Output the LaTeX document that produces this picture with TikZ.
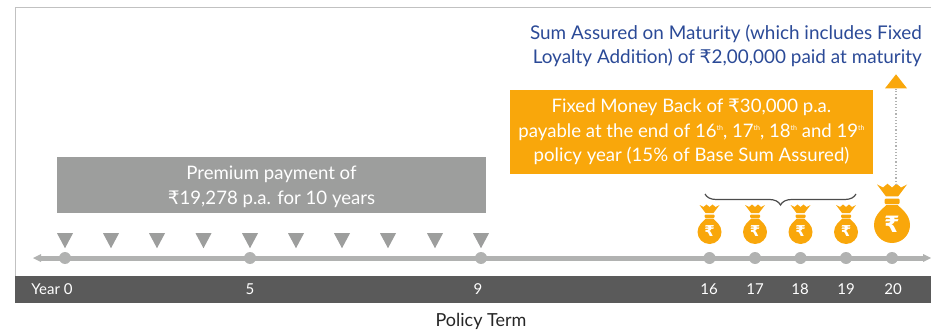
\documentclass[tikz,border=0pt]{standalone}
\usepackage{fontspec}
\setmainfont{Lato}
\newfontfamily\rupeefont{DejaVu Sans}
\usetikzlibrary{arrows,shapes.geometric,decorations.pathreplacing}
\definecolor{bagorange}{HTML}{F9A70B}
\definecolor{axisgray}{HTML}{B1B2B1}
\definecolor{boxgray}{HTML}{9D9E9D}
\definecolor{banddark}{HTML}{5A5A5A}
\definecolor{titleblue}{HTML}{2B4A97}
\newcommand{\rs}{{\rupeefont\char"20B9}}
\newcommand{\thmark}{\raisebox{6.5pt}{\fontsize{7}{7}\selectfont th}}
\tikzset{
  tick node/.style={circle,fill=axisgray,minimum size=12pt,inner sep=0pt},
  due node/.style={isosceles triangle,isosceles triangle apex angle=56,shape border rotate=-90,
    fill=boxgray,minimum width=16pt,minimum height=15pt,inner sep=0pt},
  year node/.style={text=white,font=\fontsize{15}{17}\selectfont},
  note node/.style={align=center,text=white,inner sep=0pt,font=\fontsize{18.6}{24.5}\selectfont},
  bag/.pic={
    \fill[bagorange] (-10,-27) -- (-6,-25) -- (-3,-27.5) -- (0,-25) -- (3,-27.5) -- (6,-25) -- (10,-27)
      -- (4,-19) -- (-4,-19) -- cycle;
    \fill[bagorange,rounded corners=1pt] (-5,-17.5) rectangle (5,-14);
    \fill[bagorange] (-3.5,-13.5) .. controls (-6,-11) and (-12,-7) .. (-12,0)
      arc[start angle=180,end angle=0,radius=12]
      .. controls (12,-7) and (6,-11) .. (3.5,-13.5) -- cycle;
    \node[text=white,transform shape,inner sep=0pt,font=\rupeefont\bfseries\fontsize{15}{15}\selectfont] at (0,-0.5) {\char"20B9};
  }
}
\begin{document}
\begin{tikzpicture}[x=1pt,y=-1pt]
  \useasboundingbox (0,0) rectangle (931,331);

  \draw[axisgray!80,line width=1.2pt] (15.5,303) -- (15.5,7.5) -- (931,7.5);
  \fill[banddark] (15,276) rectangle (931,303);

  % axis
  \coordinate (start) at (33,258);
  \coordinate (end) at (931,258);
  \draw[axisgray,line width=5pt] (41,258) -- (924,258);
  \fill[axisgray] (start) -- (41,254) -- (41,262) -- cycle;
  \fill[axisgray] (end) -- (923,254) -- (923,262) -- cycle;

  \foreach \name/\px in {0/65,5/250,9/481,16/709.5,17/755,18/800.5,19/846,20/892}
    \node[tick node] (t\name) at (\px,258) {};

  \foreach \px in {65,111,157,203.5,250,296,342,388,435,481}
    \node[due node] at (\px,238) {};

  \node[year node] (y0) at (52,289.5) {Year 0};
  \node[year node] (y5) at (250,289.5) {5};
  \node[year node] (y9) at (478,289.5) {9};
  \node[year node] (y16) at (709,289.5) {16};
  \node[year node] (y17) at (755,289.5) {17};
  \node[year node] (y18) at (800,289.5) {18};
  \node[year node] (y19) at (846,289.5) {19};
  \node[year node] (y20) at (893,289.5) {20};
  \node[font=\fontsize{18}{20}\selectfont,text=black!85] (term) at (481,321) {Policy Term};

  \node[note node,fill=boxgray,minimum width=429pt,minimum height=56pt] (premium) at (271.5,185)
    {\rule{0pt}{17pt}Premium payment of\\ \rs19,278 p.a. for 10 years};
  \node[note node,fill=bagorange,minimum width=363pt,minimum height=84pt] (moneyback) at (691.5,132)
    {Fixed Money Back of \rs30,000 p.a.\\
     payable at the end of 16\thmark, 17\thmark, 18\thmark{} and 19\thmark\\
     policy year (15\% of Base Sum Assured)};
  \node[align=right,anchor=east,text=titleblue,inner sep=0pt,font=\fontsize{18.9}{24.5}\selectfont] (maturity) at (922,46)
    {Sum Assured on Maturity (which includes Fixed\\ Loyalty Addition) of \rs2,00,000 paid at maturity};

  \foreach \name/\px in {16/709.5,17/755,18/800.5,19/846}
    \pic at (\px,232) {bag};
  \pic[scale=1.5] at (892,225) {bag};

  % brace over the yearly bags
  \coordinate (bl) at (705,194);
  \coordinate (br) at (856,194);
  \draw[black!70,line width=1.2pt,decorate,decoration={brace,amplitude=11pt,raise=0pt,mirror}] (bl) -- (br);

  % maturity arrow
  \node[isosceles triangle,isosceles triangle apex angle=76,shape border rotate=90,fill=bagorange,
    minimum width=22pt,minimum height=14pt,inner sep=0pt] (tip) at (896,83) {};
  \coordinate (bagtop) at (896,185);
  \draw[axisgray,line width=1.2pt,dotted] (bagtop) -- (tip.south);
\end{tikzpicture}
\end{document}
